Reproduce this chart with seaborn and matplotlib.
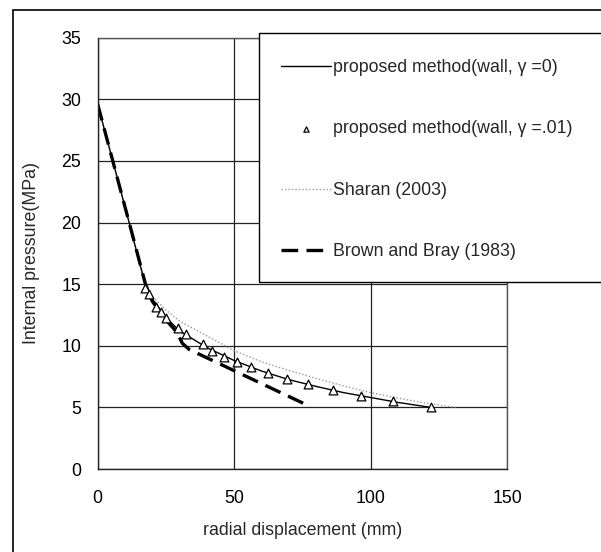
import numpy as np
import pandas as pd
import seaborn as sns
import matplotlib
matplotlib.use("Agg")
import matplotlib.pyplot as plt
from matplotlib.patches import Rectangle

# ---------------- data ----------------
x_gamma0 = [0, 3, 6, 9, 12, 15, 17.5, 20, 25, 30, 40, 50, 60, 70, 80, 90, 100, 110, 122]
y_gamma0 = [29.6, 27.1, 24.6, 22.1, 19.6, 17.0, 15.0, 13.8, 12.3, 11.2, 9.85, 8.8, 7.95, 7.25, 6.7, 6.2, 5.8, 5.4, 5.0]

x_gamma01 = [17.3, 18.9, 21.3, 23.2, 25.0, 29.5, 32.3, 38.4, 41.8, 46.3, 50.9, 56.2, 62.4, 69.5, 77.1, 86.2, 96.3, 108.3, 122.2]
y_gamma01 = [14.66, 14.19, 13.16, 12.71, 12.22, 11.46, 10.92, 10.11, 9.57, 9.11, 8.70, 8.25, 7.76, 7.27, 6.89, 6.41, 5.94, 5.54, 5.05]

x_sharan = [0, 6, 12, 17, 20, 25, 30, 40, 50, 60, 70, 80, 90, 100, 110, 120, 131]
y_sharan = [29.6, 24.6, 19.6, 15.0, 14.0, 12.9, 12.0, 10.8, 9.6, 8.7, 8.0, 7.35, 6.75, 6.2, 5.75, 5.35, 5.0]

x_brown = [0, 6, 12, 17.5, 20, 25, 29, 31, 33.5, 78]
y_brown = [29.6, 24.6, 19.6, 15.0, 13.6, 12.1, 11.1, 10.2, 9.7, 5.05]

labels = ["proposed method(wall, γ =0)", "proposed method(wall, γ =.01)",
          "Sharan (2003)", "Brown and Bray (1983)"]
x_ticks = [0, 50, 100, 150]
y_ticks = [0, 5, 10, 15, 20, 25, 30, 35]
x_label = "radial displacement (mm)"
y_label = "Internal pressure(MPa)"

# ---------------- style ----------------
sns.set_style("white")
plt.rcParams["font.family"] = ["Liberation Sans", "DejaVu Sans"]
FS = 12.8

W, H = 601, 552
fig = plt.figure(figsize=(W / 100, H / 100), dpi=100)
ax = fig.add_axes([97.7 / W, 1 - 469 / H, (507.3 - 97.7) / W, (469 - 37.7) / H])

df0 = pd.DataFrame({"x": x_gamma0, "y": y_gamma0})
df1 = pd.DataFrame({"x": x_gamma01, "y": y_gamma01})
dfs = pd.DataFrame({"x": x_sharan, "y": y_sharan})
dfb = pd.DataFrame({"x": x_brown, "y": y_brown})

sns.lineplot(data=dfs, x="x", y="y", sort=False, ax=ax, color="#9a9a9a",
             linewidth=1.0, label=labels[2])
ax.lines[-1].set_linestyle((0, (1, 1.5)))
sns.lineplot(data=dfb, x="x", y="y", sort=False, ax=ax, color="black",
             linewidth=2.4, label=labels[3])
ax.lines[-1].set_linestyle((0, (5, 2.5)))
sns.lineplot(data=df0, x="x", y="y", sort=False, ax=ax, color="black",
             linewidth=1.0, label=labels[0])
sns.scatterplot(data=df1, x="x", y="y", ax=ax, marker="^", s=40,
                facecolor="white", edgecolor="black", linewidth=0.9,
                label=labels[1], zorder=4)

ax.set_xlim(0, 150)
ax.set_ylim(0, 35)
ax.set_xticks(x_ticks)
ax.set_yticks(y_ticks)
ax.tick_params(axis="both", direction="out", length=5, width=1, color="black",
               labelsize=FS, labelcolor="black")
ax.tick_params(axis="x", pad=10)
ax.tick_params(axis="y", pad=7)
ax.grid(True, color="#222222", linewidth=0.9)
for s in ["left", "bottom"]:
    ax.spines[s].set_color("#222222")
    ax.spines[s].set_linewidth(1.0)
for s in ["right", "top"]:
    ax.spines[s].set_color("#555555")
    ax.spines[s].set_linewidth(1.0)
ax.set_xlabel(x_label, fontsize=FS, labelpad=11)
ax.set_ylabel(y_label, fontsize=FS, labelpad=15)

# legend
handles, labs = ax.get_legend_handles_labels()
order = [labs.index(l) for l in labels]
if ax.get_legend():
    ax.get_legend().remove()
fig.add_artist(Rectangle((258.5 / W, 1 - 282 / H), (640 - 258.5) / W, (282 - 33.3) / H,
                         transform=fig.transFigure, facecolor="white",
                         edgecolor="black", linewidth=1.0, zorder=2))
leg = fig.legend([handles[i] for i in order], [labs[i] for i in order],
                 loc="upper left", bbox_to_anchor=(281 / W, 1 - 59 / H),
                 frameon=False, fontsize=FS, borderpad=0, borderaxespad=0,
                 handlelength=2.8, handletextpad=0.12, labelspacing=2.5,
                 markerscale=0.6)
leg.set_zorder(3)

# figure border
fig.add_artist(Rectangle((13.3 / W, -0.05), 1.2, 1 - 10 / H + 0.05,
                         transform=fig.transFigure, facecolor="none",
                         edgecolor="black", linewidth=1.2, zorder=5))

fig.savefig("out.png", dpi=100)
